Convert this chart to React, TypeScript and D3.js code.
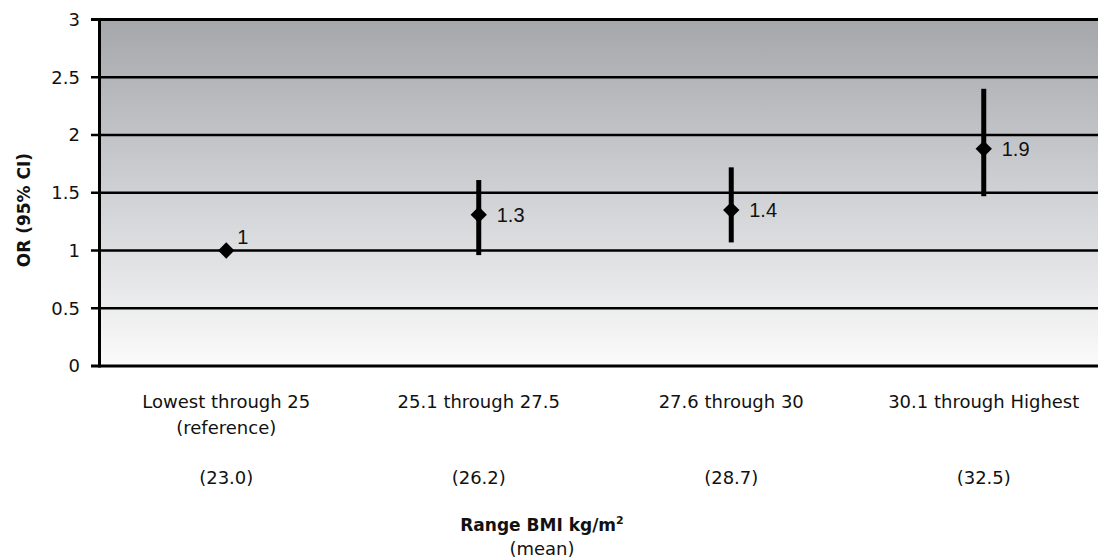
import React from 'react';
import * as d3 from 'd3';

const width = 1098;
const height = 559;
const margin = { top: 19.5, right: -12, bottom: 193, left: 98 };

const categories = ['Lowest through 25', '25.1 through 27.5', '27.6 through 30', '30.1 through Highest'];
const subLabels = ['(reference)', '', '', ''];
const means = ['(23.0)', '(26.2)', '(28.7)', '(32.5)'];
const orValues = [1, 1.31, 1.35, 1.88];
const ciLow = [1, 0.96, 1.07, 1.47];
const ciHigh = [1, 1.61, 1.72, 2.4];
const valueLabels = ['1', '1.3', '1.4', '1.9'];
const yTicks = [0, 0.5, 1, 1.5, 2, 2.5, 3];

const tickFont = '"DejaVu Sans", Verdana, sans-serif';

const App = () => {
  const x = d3
    .scaleBand()
    .domain(categories)
    .range([margin.left + 2, width - margin.right]);

  const y = d3
    .scaleLinear()
    .domain([0, 3])
    .range([height - margin.bottom, margin.top]);

  const diamond = d3.symbol().type(d3.symbolDiamond2).size(170)();
  const cx = (c: string) => (x(c) as number) + x.bandwidth() / 2;

  return (
    <svg width={width} height={height} style={{ position: 'absolute', left: 0, top: 0 }}>
      <defs>
        <linearGradient id="bg" x1="0" y1="0" x2="0" y2="1">
          <stop offset="0%" stopColor="#a6a7ab" />
          <stop offset="55%" stopColor="#d4d5d8" />
          <stop offset="100%" stopColor="#fbfbfb" />
        </linearGradient>
      </defs>
      <rect
        x={margin.left}
        y={y(3)}
        width={width - margin.left + 20}
        height={y(0) - y(3)}
        fill="url(#bg)"
      />
      {/* gridlines and ticks */}
      {yTicks.map(t => (
        <g key={t}>
          <line
            x1={margin.left - 7}
            x2={width + 10}
            y1={y(t)}
            y2={y(t)}
            stroke="#000"
            strokeWidth={t === 0 || t === 3 ? 3 : 2.5}
          />
          <text
            x={80}
            y={y(t)}
            dy="0.36em"
            textAnchor="end"
            fontFamily={tickFont}
            fontSize={18}
            fill="#111"
          >
            {t}
          </text>
        </g>
      ))}
      <line x1={margin.left + 1.5} x2={margin.left + 1.5} y1={y(3) - 1.5} y2={y(0) + 1.5} stroke="#000" strokeWidth={3} />

      {/* CI bars and points */}
      {categories.map((c, i) => (
        <g key={c}>
          {ciHigh[i] > ciLow[i] && (
            <line x1={cx(c)} x2={cx(c)} y1={y(ciHigh[i])} y2={y(ciLow[i])} stroke="#000" strokeWidth={5} />
          )}
          <path d={diamond} transform={`translate(${cx(c)},${y(orValues[i])})`} fill="#000" />
          <text
            x={cx(c) + (i === 0 ? 11 : 18)}
            y={y(orValues[i]) + (i === 0 ? -14 : 0)}
            dy="0.36em"
            fontFamily='"Liberation Sans", Arial, sans-serif'
            fontSize={20}
            fill="#111"
          >
            {valueLabels[i]}
          </text>
        </g>
      ))}

      {/* category labels */}
      {categories.map((c, i) => (
        <g key={c} fontFamily={tickFont} fontSize={18} fill="#111" textAnchor="middle">
          <text x={cx(c)} y={408}>{c}</text>
          {subLabels[i] && <text x={cx(c)} y={434}>{subLabels[i]}</text>}
          <text x={cx(c)} y={484}>{means[i]}</text>
        </g>
      ))}

      <text x={542} y={531} textAnchor="middle" fontFamily={tickFont} fontSize={17} fontWeight="bold" fill="#111">
        Range BMI kg/m<tspan fontSize={11} dy="-7">2</tspan>
      </text>
      <text x={542} y={555} textAnchor="middle" fontFamily={tickFont} fontSize={18} fill="#111">
        (mean)
      </text>
      <text
        transform={`translate(30,${y(1.35)}) rotate(-90)`}
        textAnchor="middle"
        fontFamily={tickFont}
        fontSize={17}
        fontWeight="bold"
        fill="#111"
      >
        OR (95% CI)
      </text>
    </svg>
  );
};

export default App;
